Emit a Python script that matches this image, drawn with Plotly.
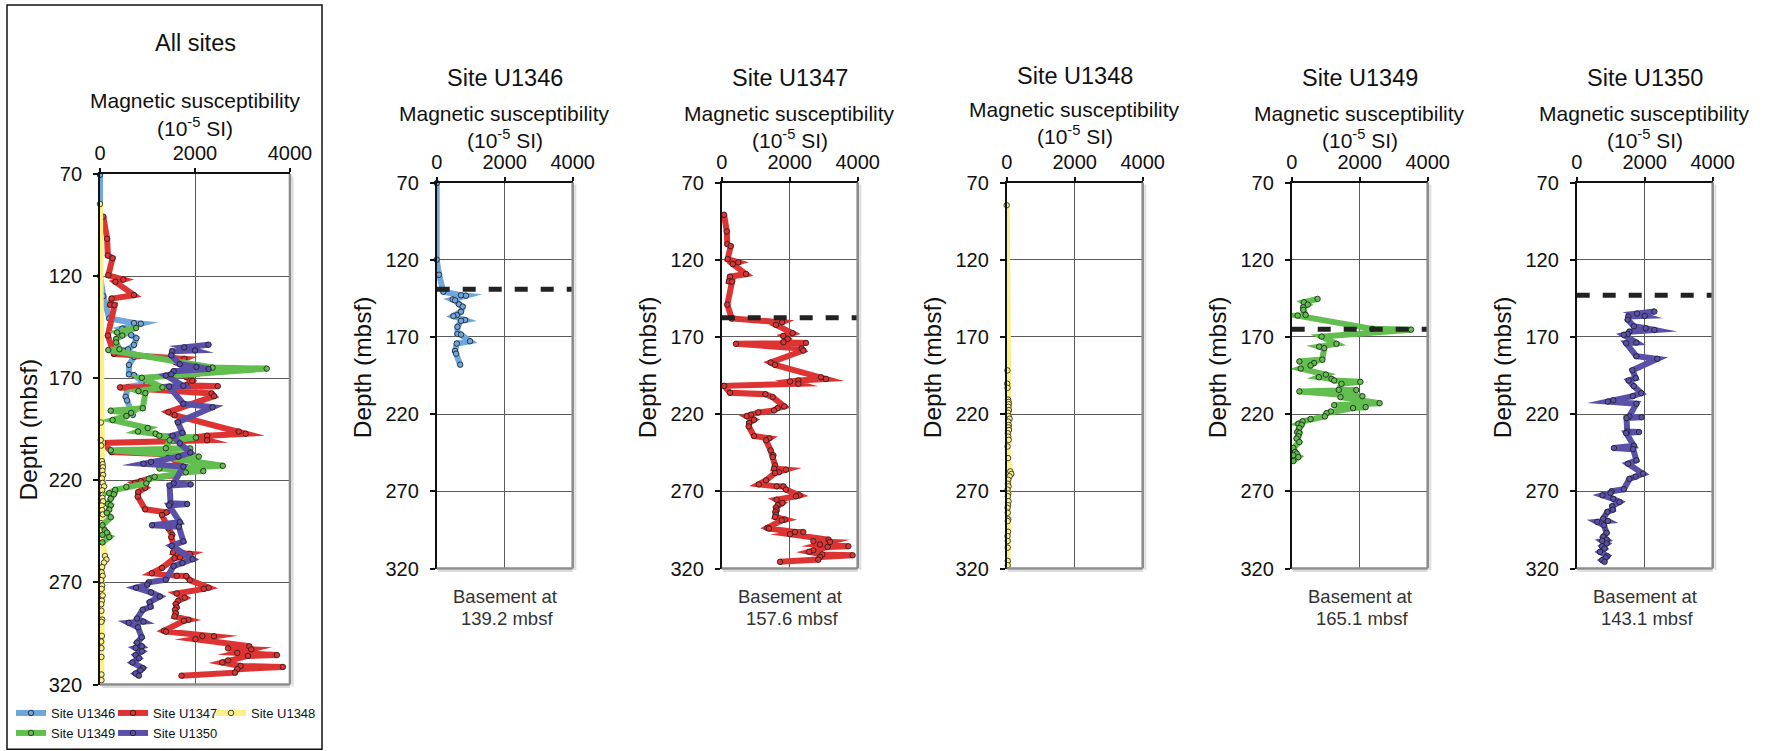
import plotly.graph_objects as go

W, H = 1773, 751
FONT = "Liberation Sans, Arial, Helvetica, sans-serif"

# ---- data -------------------------------------------------------------
SITES = ["U1346", "U1347", "U1348", "U1349", "U1350"]
SITE_COLORS = ["#6fa6dc", "#dd3333", "#fbef8a", "#62bf4f", "#5a50a8"]

X_RANGE = [0, 4000]
X_TICKS = [0, 2000, 4000]
Y_TICKS = [70, 120, 170, 220, 270, 320]

# depth (mbsf) and magnetic susceptibility (10^-5 SI) per site
U1346_DEPTH = [70.4, 120.0, 129.8, 140.7, 143.0, 143.3, 145.7, 146.3, 148.9, 150.4,
               153.7, 155.9, 156.5, 159.1, 159.6, 163.5, 168.1, 168.5, 172.8, 174.3,
               179.1, 180.9, 188.0]
U1346_MS = [0, 0, 70, 195, 715, 860, 470, 540, 655, 765,
            715, 590, 490, 835, 715, 610, 610, 715, 980, 590,
            540, 570, 690]

U1347_DEPTH = [90.9, 101.7, 109.9, 111.2, 119.6, 121.7, 122.8, 129.3, 131.0, 134.0,
               134.2, 149.1, 158.1, 160.5, 162.2, 167.6, 169.4, 171.3, 173.4, 173.9,
               174.5, 177.5, 178.8, 186.6, 188.1, 196.1, 197.2, 198.2, 198.9, 200.4,
               201.7, 206.2, 207.1, 209.0, 215.0, 216.1, 217.6, 218.9, 220.4, 221.3,
               223.7, 225.8, 228.0, 234.2, 235.7, 237.0, 243.5, 246.7, 247.8, 253.2,
               255.3, 256.0, 257.7, 258.1, 262.9, 265.5, 266.8, 266.9, 268.9, 272.6,
               273.2, 275.4, 277.5, 279.0, 280.6, 282.3, 283.4, 285.1, 286.6, 288.3,
               288.8, 293.7, 294.1, 296.3, 296.4, 297.8, 301.3, 302.3, 302.8, 304.5,
               305.6, 306.0, 308.2, 309.2, 310.9, 311.4, 312.5, 314.2, 315.7]
U1347_MS = [70, 150, 165, 265, 175, 490, 325, 715, 245, 215,
            305, 165, 295, 1775, 1595, 2085, 1815, 1940, 1815, 2480,
            420, 2350, 2400, 1440, 1570, 2920, 3065, 2255, 2010, 2255,
            70, 245, 1285, 1500, 1840, 1645, 1540, 1080, 860, 735,
            950, 805, 795, 950, 1400, 1305, 1440, 1520, 1500, 1570,
            1540, 1890, 1685, 1570, 1305, 1090, 1615, 1815, 1890, 2285,
            2185, 1615, 1785, 1645, 1595, 1615, 1580, 1595, 1570, 1860,
            1765, 1345, 1390, 2155, 2400, 2010, 3145, 2695, 3185, 2890,
            3725, 3115, 2695, 2575, 2960, 3850, 2890, 2840, 1715]

U1348_DEPTH = [84.7, 191.7, 200.3, 203.0, 210.6, 212.1, 213.6, 215.3, 217.4, 219.1,
               221.3, 223.0, 224.9, 227.1, 228.6, 230.3, 232.4, 234.6, 236.7, 241.0,
               248.5, 257.1, 258.8, 260.3, 262.5, 265.1, 266.8, 268.9, 271.5, 273.2,
               276.4, 279.0, 280.7, 283.9, 288.2, 289.3, 296.2, 299.0, 302.2, 306.5,
               315.1, 317.9]
U1348_MS = [0, 20, 15, 25, 40, 55, 60, 50, 65, 40,
            55, 85, 45, 60, 50, 65, 35, 45, 60, 25,
            40, 105, 135, 85, 45, 35, 55, 25, 45, 35,
            55, 40, 25, 30, 45, 30, 40, 25, 30, 30,
            30, 30]

U1349_DEPTH = [145.4, 147.6, 149.1, 150.8, 152.5, 155.8, 156.2, 164.8, 165.3, 169.8,
               174.5, 176.3, 177.3, 184.7, 185.9, 187.0, 188.5, 190.5, 194.4, 196.1,
               197.2, 198.2, 199.1, 200.4, 204.3, 204.4, 205.3, 208.4, 209.0, 212.9,
               214.2, 215.5, 216.1, 218.3, 219.4, 221.5, 223.2, 224.7, 226.3, 226.9,
               229.0, 231.6, 232.3, 234.4, 235.9, 238.1, 242.0, 244.5, 245.6, 246.7,
               247.8, 250.4]
U1349_MS = [760, 360, 470, 340, 340, 410, 175, 2370, 3510, 880,
            1315, 810, 955, 900, 225, 655, 555, 265, 1005, 800,
            1170, 1250, 2020, 1465, 1385, 1900, 225, 2080, 1435, 2585,
            1250, 2175, 1805, 1150, 1025, 975, 555, 320, 195, 290,
            225, 165, 225, 195, 145, 225, 50, 100, 145, 50,
            195, 50]

U1350_DEPTH = [153.6, 154.9, 156.4, 156.8, 158.8, 163.1, 164.4, 165.5, 166.6, 168.1,
               168.7, 173.7, 174.1, 182.5, 184.2, 191.6, 196.7, 198.2, 201.9, 206.4,
               208.4, 211.0, 211.9, 213.3, 221.5, 222.0, 222.6, 231.3, 231.6, 232.3,
               240.5, 242.0, 242.7, 249.9, 252.1, 258.6, 260.5, 262.0, 268.7, 270.0,
               271.1, 272.6, 274.9, 276.9, 279.7, 281.9, 283.4, 287.7, 289.2, 289.8,
               292.0, 296.9, 299.5, 301.3, 302.1, 303.8, 305.6, 307.1, 309.2, 312.0,
               313.1, 314.6, 315.7]
U1350_MS = [2285, 1775, 2000, 1520, 1500, 1680, 2030, 2285, 1550, 1500,
            1385, 1755, 1455, 1755, 2370, 1640, 1735, 1530, 1680, 1900,
            1650, 1075, 915, 1755, 1550, 1910, 1465, 1485, 1835, 1455,
            1680, 1095, 1660, 1755, 1510, 1950, 1735, 1550, 1385, 1025,
            995, 760, 1075, 1260, 1045, 1065, 900, 780, 915, 605,
            800, 880, 780, 880, 750, 880, 750, 820, 685, 900,
            850, 750, 820]

# depth of basement contact (mbsf); U1348 did not reach basement
BASEMENT = {"U1346": 139.2, "U1347": 157.6, "U1349": 165.1, "U1350": 143.1}

DEPTHS = {"U1346": U1346_DEPTH, "U1347": U1347_DEPTH, "U1348": U1348_DEPTH,
          "U1349": U1349_DEPTH, "U1350": U1350_DEPTH}
SUSC = {"U1346": U1346_MS, "U1347": U1347_MS, "U1348": U1348_MS,
        "U1349": U1349_MS, "U1350": U1350_MS}

# ---- layout geometry (pixels) -----------------------------------------
ALL_BOX = (100, 174, 290, 684.5)          # left, top, right, bottom
PANEL_LEFT0, PANEL_STEP, PANEL_W = 436.7, 285, 136
PANEL_TOP, PANEL_BOTTOM = 182.5, 568.5


def fx(px):
    return px / W


def fy(py):
    return 1 - py / H


boxes = [ALL_BOX] + [
    (PANEL_LEFT0 + i * PANEL_STEP, PANEL_TOP,
     PANEL_LEFT0 + i * PANEL_STEP + PANEL_W, PANEL_BOTTOM)
    for i in range(len(SITES))
]

fig = go.Figure()
layout = dict(
    width=W, height=H,
    margin=dict(l=0, r=0, t=0, b=0, autoexpand=False),
    paper_bgcolor="white", plot_bgcolor="white",
    font=dict(family=FONT, color="#111111"),
    showlegend=True,
)

shapes = []
annotations = []


def suffix(k):
    return "" if k == 1 else str(k)


for k, (l, t, r, b) in enumerate(boxes, start=1):
    s = suffix(k)
    layout[f"xaxis{s}"] = dict(
        domain=[fx(l), fx(r)], range=X_RANGE, side="top", anchor=f"y{s}",
        tickmode="array", tickvals=X_TICKS, ticks="outside", ticklen=4,
        tickwidth=1.5, tickcolor="#111", showline=True, linecolor="#111",
        linewidth=1.8, showgrid=True, gridcolor="#5a5a5a", gridwidth=1.1,
        zeroline=False, tickfont=dict(size=20, family=FONT, color="#111"),
        fixedrange=True,
    )
    layout[f"yaxis{s}"] = dict(
        domain=[fy(b), fy(t)], range=[Y_TICKS[-1], Y_TICKS[0]], anchor=f"x{s}",
        tickmode="array", tickvals=Y_TICKS, ticks="outside", ticklen=5,
        tickwidth=1.5, tickcolor="#111", showline=True, linecolor="#111",
        linewidth=1.8, showgrid=True, gridcolor="#5a5a5a", gridwidth=1.1,
        zeroline=False, tickfont=dict(size=20, family=FONT, color="#111"),
        ticklabelstandoff=7, fixedrange=True,
    )
    # grey frame on the right and bottom, with a faint shadow
    for (x0, x1, y0, y1) in [(1, 1, 0, 1), (0, 1, 0, 0)]:
        shapes.append(dict(type="line", xref=f"x{s} domain", yref=f"y{s} domain",
                           x0=x0, x1=x1, y0=y0, y1=y1,
                           line=dict(color="#8c8c8c", width=2.6), layer="above"))
    shapes.append(dict(type="line", xref=f"x{s} domain", yref=f"y{s} domain",
                       xsizemode="pixel", xanchor=1, x0=2.6, x1=2.6, y0=-0.004, y1=0.995,
                       line=dict(color="#dddddd", width=2), layer="above"))
    shapes.append(dict(type="line", xref=f"x{s} domain", yref=f"y{s} domain",
                       ysizemode="pixel", yanchor=0, y0=-2.6, y1=-2.6, x0=0.01, x1=1.0,
                       line=dict(color="#dddddd", width=2), layer="above"))


def site_trace(site, k, legend=None):
    s = suffix(k)
    color = SITE_COLORS[SITES.index(site)]
    return go.Scatter(
        x=SUSC[site], y=DEPTHS[site], xaxis=f"x{s}", yaxis=f"y{s}",
        mode="lines+markers", name=f"Site {site}",
        line=dict(color=color, width=6),
        marker=dict(size=5.5, color=color, line=dict(color="#1b1b1b", width=0.8)),
        cliponaxis=False, hoverinfo="skip",
        showlegend=legend is not None, legend=legend or "legend",
    )


# combined panel with one legend entry per site
legend_ids = ["legend", "legend2", "legend3", "legend4", "legend5"]
legend_pos = [(11, 713), (113, 713), (211, 713), (11, 733), (113, 733)]
for site, lid, (lx, ly) in zip(SITES, legend_ids, legend_pos):
    fig.add_trace(site_trace(site, 1, legend=lid))
    layout[lid] = dict(
        x=fx(lx), y=fy(ly), xanchor="left", yanchor="middle",
        orientation="h", bgcolor="rgba(0,0,0,0)", borderwidth=0,
        itemwidth=30, font=dict(family=FONT, size=13, color="#111"),
    )

# single-site panels
for i, site in enumerate(SITES):
    k = i + 2
    s = suffix(k)
    fig.add_trace(site_trace(site, k))
    if site in BASEMENT:
        depth = BASEMENT[site]
        fig.add_trace(go.Scatter(
            x=X_RANGE, y=[depth, depth], xaxis=f"x{s}", yaxis=f"y{s}",
            mode="lines", line=dict(color="#222222", width=5, dash="13px,13px"),
            hoverinfo="skip", showlegend=False,
        ))

# ---- text ---------------------------------------------------------------
SUBTITLE = "Magnetic susceptibility"
UNITS = "(10<sup>-5</sup> SI)"
DEPTH_TITLE = "Depth (mbsf)"


def text(txt, px, py, size, angle=0, color="#111111"):
    annotations.append(dict(
        text=txt, x=fx(px), y=fy(py), xref="paper", yref="paper",
        xanchor="center", yanchor="middle", showarrow=False, textangle=angle,
        font=dict(family=FONT, size=size, color=color),
    ))


cx_all = (ALL_BOX[0] + ALL_BOX[2]) / 2
text("All sites", cx_all, 42.7, 23.5)
text(SUBTITLE, cx_all, 100, 21)
text(UNITS, cx_all, 126.5, 21)
text(DEPTH_TITLE, 28, 429.5, 24.5, angle=-90)

for i, site in enumerate(SITES):
    l, t, r, b = boxes[i + 1]
    cx = (l + r) / 2
    lift = 4 if site == "U1348" else 0
    text(f"Site {site}", cx, 78.3 - lift / 2, 23.5)
    text(SUBTITLE, cx, 113.3 - lift, 21)
    text(UNITS, cx, 139 - lift, 21)
    text(DEPTH_TITLE, l - 74, 367.5, 24.5, angle=-90)
    if site in BASEMENT:
        text("Basement at", cx, 596.7, 18.5, color="#333333")
        text(f"{BASEMENT[site]} mbsf", cx + 2, 618.3, 18.5, color="#333333")

# frame around the combined panel
shapes.append(dict(type="rect", xref="paper", yref="paper",
                   x0=fx(7), x1=fx(322), y0=fy(749.3), y1=fy(5),
                   line=dict(color="#111111", width=1.5), fillcolor="rgba(0,0,0,0)"))

layout["shapes"] = shapes
layout["annotations"] = annotations
fig.update_layout(**layout)

# profile bands: let them run past the zero axis and give turns pointed joins
BAND_STYLE = """
var css = document.createElement('style');
css.textContent =
  '.cartesianlayer .plot, .cartesianlayer .plot * { clip-path: none !important; }' +
  '.scatterlayer .js-line { stroke-linejoin: miter; stroke-miterlimit: 8; }';
document.head.appendChild(css);
"""

fig.write_html("out.html", post_script=BAND_STYLE)
